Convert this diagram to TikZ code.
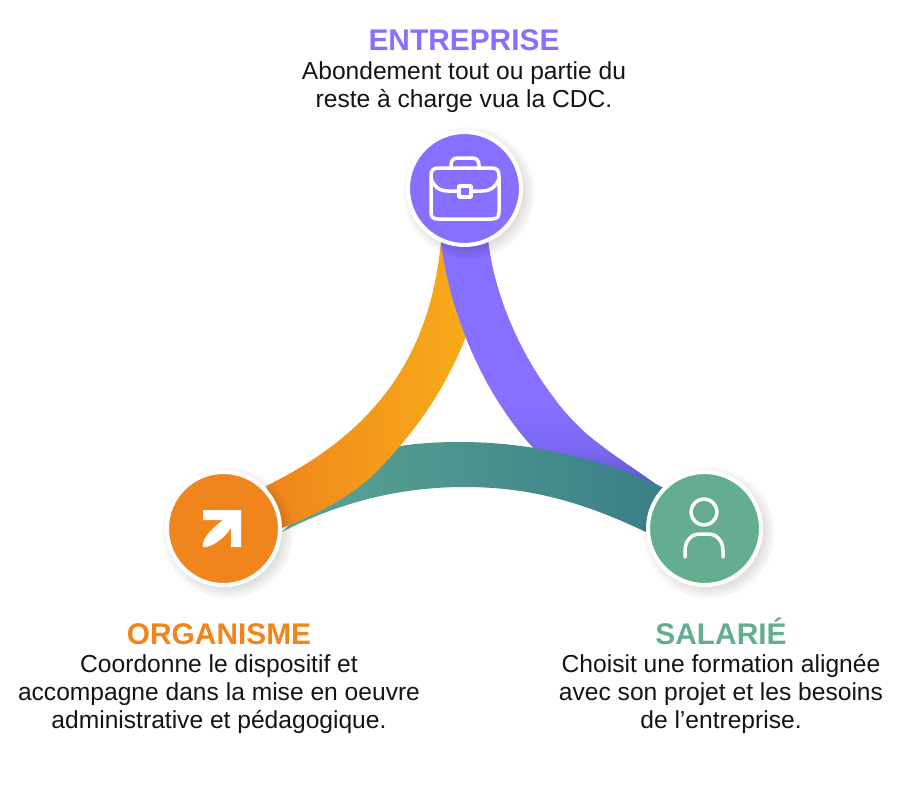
\documentclass[tikz,border=0pt]{standalone}
\usepackage{fontspec}
\setmainfont{Liberation Sans}
\usepackage{xcolor}
\definecolor{violetE}{HTML}{8570FF}
\definecolor{violetM}{HTML}{7A68F0}
\definecolor{violetD}{HTML}{5F55CC}
\definecolor{orangeO}{HTML}{EF851C}
\definecolor{orangeL}{HTML}{F8B018}
\definecolor{vertS}{HTML}{64AD8F}
\definecolor{tealL}{HTML}{5BA592}
\definecolor{tealR}{HTML}{3A7E88}
\pgfdeclareverticalshading{violetband}{100bp}{color(0bp)=(violetD); color(26bp)=(violetD); color(33bp)=(violetM); color(42bp)=(violetE); color(100bp)=(violetE)}
\tikzset{
  pastille/.style={circle,draw=white,line width=0.8mm,minimum size=2.26cm,inner sep=0pt},
  titre/.style={font=\fontsize{17pt}{20pt}\selectfont\bfseries,anchor=base},
  corps/.style={font=\fontsize{14pt}{15.93pt}\selectfont,align=center,text=black!92},
  icone/.style={white,line width=0.7mm,line cap=round,line join=round}
}
\newcommand{\bandeviolet}{(441,240) .. controls (448,310) and (485,400) .. (540,455) .. controls (580,480) and (640,490) .. (664,490) .. controls (640,472) and (612,455) .. (588,435) .. controls (545,398) and (497,320) .. (488,240) -- cycle}
\begin{document}
\begin{tikzpicture}[x=0.02cm,y=-0.02cm]

\useasboundingbox (0,0) rectangle (900,798);

\shade[shading=violetband] \bandeviolet;

\shade[left color=tealL,right color=tealR]
(282,532) .. controls (340,502) and (400,487) .. (465,487) .. controls (535,487) and (590,505) .. (650,534) -- (664,488) .. controls (600,458) and (530,442) .. (460,442) .. controls (420,442) and (390,446) .. (360,455) -- cycle;

\shade[left color=orangeO,right color=orangeL]
(266,486) .. controls (360,440) and (430,370) .. (441,240) -- (488,240) .. controls (480,340) and (430,420) .. (370,478) .. controls (345,500) and (310,517) .. (282,528) -- cycle;

% le violet repasse sur l'orange en haut
\begin{scope}
\clip (400,230) rectangle (600,400);
\shade[shading=violetband] \bandeviolet;
\end{scope}

% ombres
\foreach \cx/\cy in {465/188,224/528,705/528}
  \foreach \r in {56,58,...,66}
    \fill[black,opacity=0.02] (\cx+4,\cy+5) circle[radius=\r];

\node[pastille,fill=violetE] (entreprise) at (464.5,188.5) {};
\node[pastille,fill=orangeO] (organisme) at (223.5,528.5) {};
\node[pastille,fill=vertS] (salarie) at (704.5,528.5) {};

% mallette
\draw[icone] (431,176) .. controls (431,170) and (433,168) .. (439,168) -- (491,168) .. controls (497,168) and (499,170) .. (499,176) -- (499,212) .. controls (499,217) and (497,219) .. (492,219) -- (438,219) .. controls (433,219) and (431,217) .. (431,212) -- cycle;
\draw[icone] (431,178) .. controls (433,186) and (439,191) .. (448,191) -- (459,191);
\draw[icone] (499,178) .. controls (497,186) and (491,191) .. (482,191) -- (471,191);
\draw[icone] (459,186) rectangle (471,197);
\draw[icone] (451,168) -- (451,165) .. controls (451,160) and (454,158) .. (458,158) -- (472,158) .. controls (476,158) and (479,160) .. (479,165) -- (479,168);

% fleche
\fill[white] (203,510) -- (241,510) -- (241,547) -- (231,547) -- (231,528) .. controls (226,536) and (216,545) .. (206,547) -- (203,547) -- (203,543) .. controls (205,535) and (214,527) .. (223,520) -- (203,520) -- cycle;

% personne
\draw[icone] (704,512) circle[radius=13];
\draw[icone] (685,557) -- (685,551) .. controls (685,540) and (692,534) .. (700,534) -- (708,534) .. controls (716,534) and (723,540) .. (723,551) -- (723,557);

\node[titre,text=violetE] (titreE) at (464,50) {ENTREPRISE};
\node[corps] (texteE) at (464,87) {Abondement tout ou partie du\\reste à charge vua la CDC.};

\node[titre,text=orangeO] (titreO) at (219,644) {ORGANISME};
\node[corps] (texteO) at (219,694) {Coordonne le dispositif et\\accompagne dans la mise en oeuvre\\administrative et pédagogique.};

\node[titre,text=vertS] (titreS) at (721,644) {SALARIÉ};
\node[corps] (texteS) at (721,694) {Choisit une formation alignée\\avec son projet et les besoins\\de l’entreprise.};

\end{tikzpicture}
\end{document}
